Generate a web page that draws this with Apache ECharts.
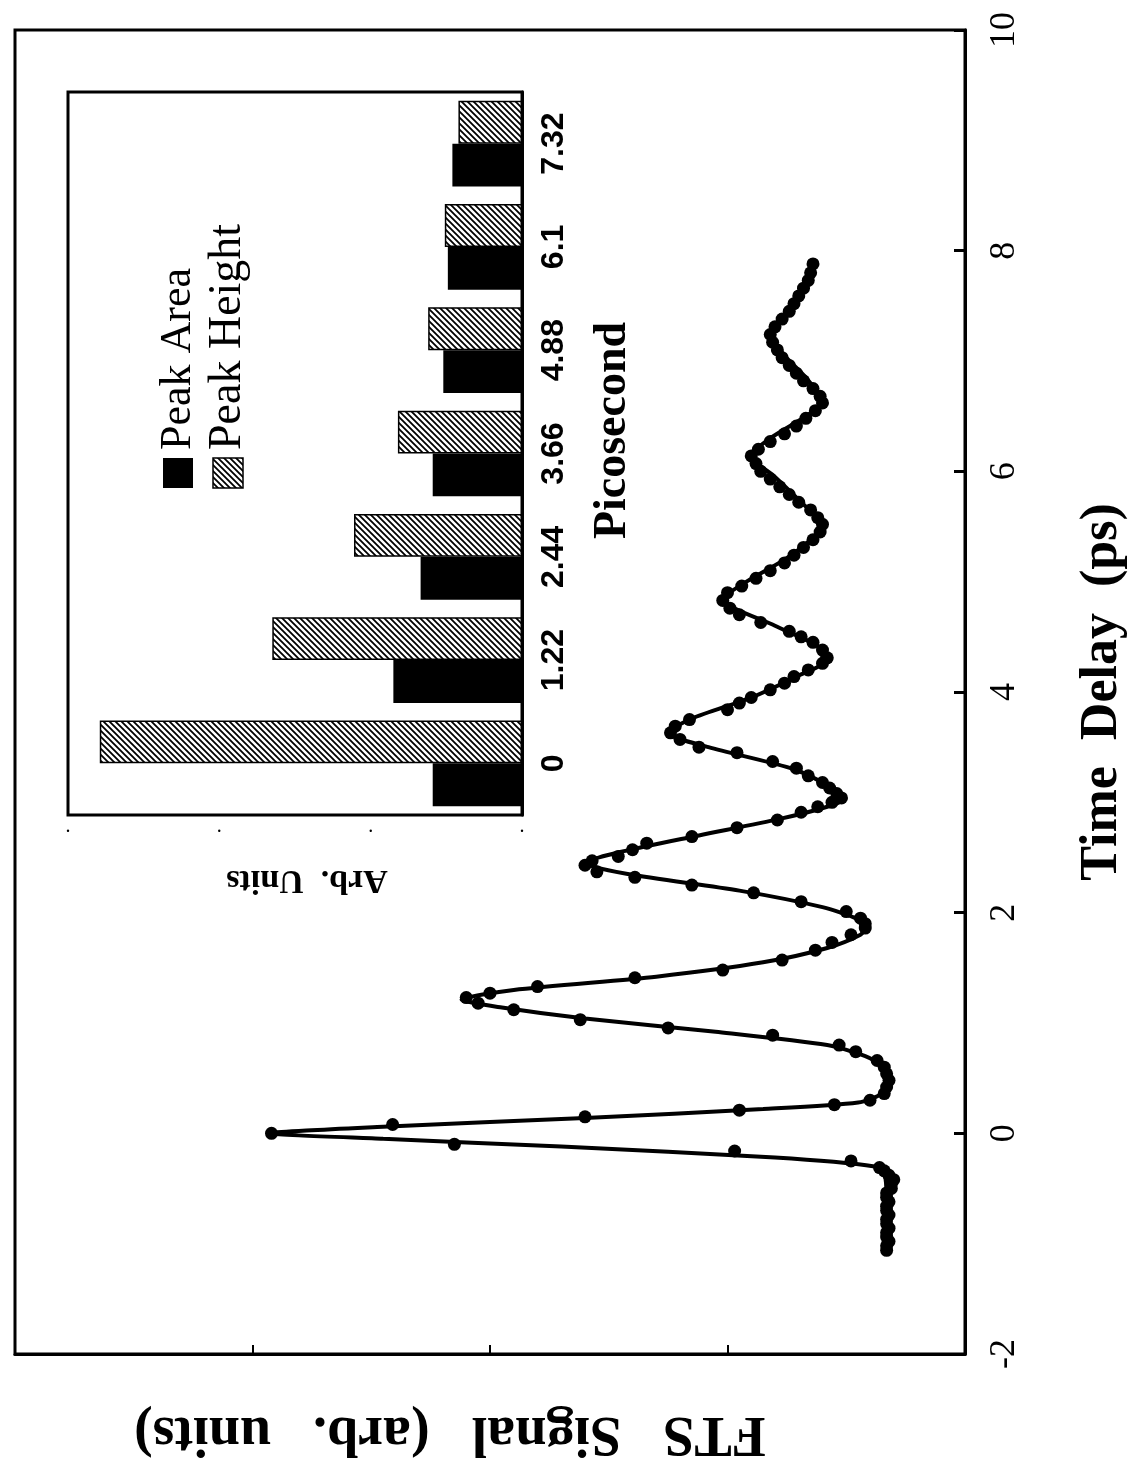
<!DOCTYPE html>
<html><head><meta charset="utf-8">
<script src="https://cdn.jsdelivr.net/npm/echarts@6/dist/echarts.min.js"></script>
<style>html,body{margin:0;padding:0;background:#fff}#c{width:1138px;height:1470px}</style>
</head><body><div id="c"></div>
<script>
// ---- Main trace: fitted curve (time in ps, signal in arb. units)
const fitTime   = [-1.06,-0.6,-0.36,-0.3,-0.22,-0.12,-0.05,0,0.06,0.14,0.22,0.28,0.36,0.48,0.6,0.7,0.8,0.92,1.04,1.14,1.21,1.3,1.42,1.55,1.68,1.8,1.86,1.94,2.05,2.2,2.35,2.45,2.56,2.7,2.85,2.96,3.03,3.12,3.3,3.5,3.63,3.76,3.95,4.15,4.27,4.4,4.6,4.84,5.0,5.2,5.38,5.52,5.7,5.95,6.14,6.3,6.5,6.63,6.85,7.05,7.24,7.45,7.65,7.9];
const fitSignal = [0.33,0.33,0.34,0.38,0.8,1.7,2.45,2.92,2.45,1.6,0.85,0.45,0.35,0.32,0.34,0.42,0.58,1.05,1.6,1.95,2.12,1.9,1.3,0.85,0.58,0.44,0.42,0.45,0.6,0.95,1.42,1.6,1.43,1.12,0.78,0.58,0.51,0.55,0.72,1.08,1.25,1.15,0.9,0.7,0.6,0.61,0.8,1.02,0.92,0.76,0.65,0.6,0.68,0.8,0.9,0.82,0.67,0.6,0.67,0.76,0.82,0.75,0.68,0.63];

// ---- Main trace: measured points
const dataTime   = [-1.06,-1.02,-0.98,-0.94,-0.9,-0.86,-0.82,-0.78,-0.74,-0.7,-0.66,-0.62,-0.58,-0.54,-0.5,-0.46,-0.42,-0.38,-0.34,-0.31,-0.25,-0.16,-0.1,0,0.08,0.15,0.21,0.26,0.3,0.36,0.42,0.48,0.54,0.6,0.66,0.74,0.8,0.89,0.955,1.03,1.12,1.18,1.23,1.27,1.33,1.41,1.48,1.57,1.66,1.73,1.8,1.86,1.9,1.95,2.01,2.1,2.18,2.25,2.32,2.37,2.43,2.47,2.51,2.57,2.63,2.69,2.77,2.84,2.91,2.96,3.0,3.04,3.08,3.13,3.18,3.24,3.31,3.37,3.45,3.5,3.57,3.63,3.69,3.75,3.84,3.9,3.95,4.02,4.08,4.14,4.2,4.26,4.31,4.38,4.45,4.5,4.55,4.63,4.7,4.76,4.83,4.9,4.96,5.03,5.1,5.17,5.24,5.31,5.38,5.45,5.52,5.58,5.65,5.72,5.79,5.86,5.93,6.0,6.07,6.14,6.2,6.27,6.34,6.41,6.48,6.55,6.62,6.68,6.75,6.82,6.89,6.96,7.03,7.1,7.17,7.24,7.31,7.38,7.45,7.52,7.59,7.66,7.73,7.8,7.88];
const dataSignal = [0.33,0.33,0.32,0.33,0.33,0.32,0.33,0.33,0.32,0.33,0.33,0.32,0.33,0.33,0.31,0.31,0.30,0.32,0.34,0.36,0.48,0.97,2.15,2.92,2.41,1.6,0.95,0.55,0.4,0.34,0.33,0.32,0.33,0.34,0.37,0.46,0.53,0.81,1.25,1.62,1.9,2.05,2.1,2.0,1.8,1.39,1.02,0.77,0.63,0.56,0.48,0.42,0.42,0.44,0.5,0.69,0.89,1.15,1.39,1.55,1.6,1.57,1.46,1.4,1.34,1.15,0.96,0.79,0.69,0.62,0.56,0.52,0.54,0.57,0.6,0.66,0.71,0.81,0.96,1.12,1.2,1.24,1.22,1.16,1.0,0.95,0.9,0.82,0.76,0.72,0.66,0.6,0.58,0.6,0.64,0.69,0.74,0.86,0.95,0.99,1.02,1.0,0.94,0.88,0.82,0.76,0.72,0.68,0.64,0.61,0.6,0.62,0.65,0.7,0.74,0.78,0.82,0.86,0.88,0.9,0.87,0.82,0.76,0.71,0.67,0.63,0.6,0.61,0.64,0.68,0.71,0.74,0.77,0.79,0.81,0.82,0.8,0.77,0.74,0.72,0.7,0.68,0.66,0.65,0.64];

// ---- Inset bar chart
const insetCategories = ['0','1.22','2.44','3.66','4.88','6.1','7.32'];
const peakArea   = [0.59,0.85,0.67,0.59,0.52,0.49,0.46];
const peakHeight = [2.79,1.65,1.11,0.82,0.62,0.51,0.42];

function hatchCanvas(){
  const n = 6, c = document.createElement('canvas');
  c.width = n; c.height = n;
  const g = c.getContext('2d');
  g.fillStyle = '#fff'; g.fillRect(0,0,n,n);
  g.strokeStyle = '#000'; g.lineWidth = 1.8;
  g.beginPath();
  g.moveTo(-1,-1); g.lineTo(n+1,n+1);
  g.moveTo(-1,n-1); g.lineTo(1,n+1);
  g.moveTo(n-1,-1); g.lineTo(n+1,1);
  g.stroke();
  return c;
}
const hatch = {image: hatchCanvas(), repeat: 'repeat'};

const serif = 'Liberation Serif, Times New Roman, serif';
const sans = 'Liberation Sans, Arial, sans-serif';

const chart = echarts.init(document.getElementById('c'), null, {renderer: 'canvas'});
chart.setOption({
  backgroundColor: '#fff',
  animation: false,
  grid: [
    {left: 15, right: 173, top: 30, bottom: 116, containLabel: false, outerBoundsMode: 'none',
     show: true, borderColor: '#000', borderWidth: 3, backgroundColor: 'transparent'},
    {left: 68, right: 616, top: 92, bottom: 655, containLabel: false, outerBoundsMode: 'none',
     show: true, borderColor: '#000', borderWidth: 3, backgroundColor: '#fff', z: 5}
  ],
  xAxis: [
    {gridIndex: 0, type: 'value', min: 0, max: 4, interval: 1, inverse: true, position: 'bottom',
     axisLine: {onZero: false, lineStyle: {color: '#000', width: 3}},
     axisTick: {inside: true, length: 9, lineStyle: {color: '#000', width: 2}},
     axisLabel: {show: false}, splitLine: {show: false},
     name: 'FTS   Signal   (arb.   units)', nameLocation: 'middle', nameGap: 50, nameRotate: 180,
     nameTextStyle: {fontFamily: serif, fontWeight: 'bold', fontSize: 56, color: '#000', padding: [0,0,0,80]}},
    {gridIndex: 1, type: 'value', min: 0, max: 3, interval: 1, inverse: true, position: 'bottom',
     axisLine: {onZero: false, lineStyle: {color: '#000', width: 3}},
     axisTick: {inside: true, length: 6, lineStyle: {color: '#000', width: 2}},
     axisLabel: {formatter: function(){ return '.'; }, fontSize: 20, color: '#000', margin: 2, fontFamily: serif},
     splitLine: {show: false},
     name: 'Arb.  Units', nameLocation: 'middle', nameGap: 48, nameRotate: 180,
     nameTextStyle: {fontFamily: serif, fontWeight: 'bold', fontSize: 34, color: '#000', padding: [0,24,0,0]}},
    {gridIndex: 1, type: 'value', min: 0, max: 3, interval: 1, inverse: true, position: 'top',
     axisLine: {onZero: false, lineStyle: {color: '#000', width: 3}},
     axisTick: {inside: true, length: 6, lineStyle: {color: '#000', width: 2}},
     axisLabel: {show: false}, splitLine: {show: false}}
  ],
  yAxis: [
    {gridIndex: 0, type: 'value', min: -2, max: 10, interval: 2, position: 'right',
     axisLine: {onZero: false, lineStyle: {color: '#000', width: 3}},
     axisTick: {inside: true, length: 11, lineStyle: {color: '#000', width: 3}},
     axisLabel: {rotate: 90, fontFamily: serif, fontSize: 36, color: '#000', margin: 22},
     splitLine: {show: false},
     name: 'Time  Delay  (ps)', nameLocation: 'middle', nameGap: 112, nameRotate: 90,
     nameTextStyle: {fontFamily: serif, fontWeight: 'bold', fontSize: 52, color: '#000'}},
    {gridIndex: 1, type: 'category', data: insetCategories, position: 'right',
     axisLine: {onZero: false, lineStyle: {color: '#000', width: 3}},
     axisTick: {show: false},
     axisLabel: {rotate: 90, fontFamily: sans, fontWeight: 'bold', fontSize: 32, color: '#000', margin: 16},
     splitLine: {show: false},
     name: 'Picosecond', nameLocation: 'middle', nameGap: 68, nameRotate: 90,
     nameTextStyle: {fontFamily: serif, fontWeight: 'bold', fontSize: 46, color: '#000', padding: [0,0,0,46]}}
  ],
  graphic: [
    {type: 'rect', shape: {x: 163, y: 458, width: 30, height: 30}, style: {fill: '#000'}, z: 20},
    {type: 'rect', shape: {x: 213, y: 458, width: 30, height: 30}, style: {fill: hatch, stroke: '#000', lineWidth: 1.5}, z: 20},
    {type: 'text', x: 178, y: 450, rotation: Math.PI/2, z: 20,
     style: {text: 'Peak Area', fontFamily: serif, fontSize: 44, fill: '#000', align: 'left', verticalAlign: 'middle'}},
    {type: 'text', x: 228, y: 450, rotation: Math.PI/2, z: 20,
     style: {text: 'Peak Height', fontFamily: serif, fontSize: 46, fill: '#000', align: 'left', verticalAlign: 'middle'}}
  ],
  series: [
    {name: 'Fit', type: 'line', xAxisIndex: 0, yAxisIndex: 0, showSymbol: false, smooth: 0.25,
     data: fitTime.map((t, i) => [fitSignal[i], t]),
     lineStyle: {color: '#000', width: 4}, z: 3},
    {name: 'Data', type: 'scatter', xAxisIndex: 0, yAxisIndex: 0, symbolSize: 13,
     data: dataTime.map((t, i) => [dataSignal[i], t]),
     itemStyle: {color: '#000', opacity: 1}, z: 4},
    {name: 'Peak Height', type: 'bar', xAxisIndex: 1, yAxisIndex: 1, data: peakHeight,
     barGap: '0%', barCategoryGap: '17%', itemStyle: {color: hatch, borderColor: '#000', borderWidth: 1.5}, z: 6},
    {name: 'Peak Area', type: 'bar', xAxisIndex: 1, yAxisIndex: 1, data: peakArea,
     barGap: '0%', barCategoryGap: '17%', itemStyle: {color: '#000'}, z: 6}
  ]
});
</script>
</body></html>
